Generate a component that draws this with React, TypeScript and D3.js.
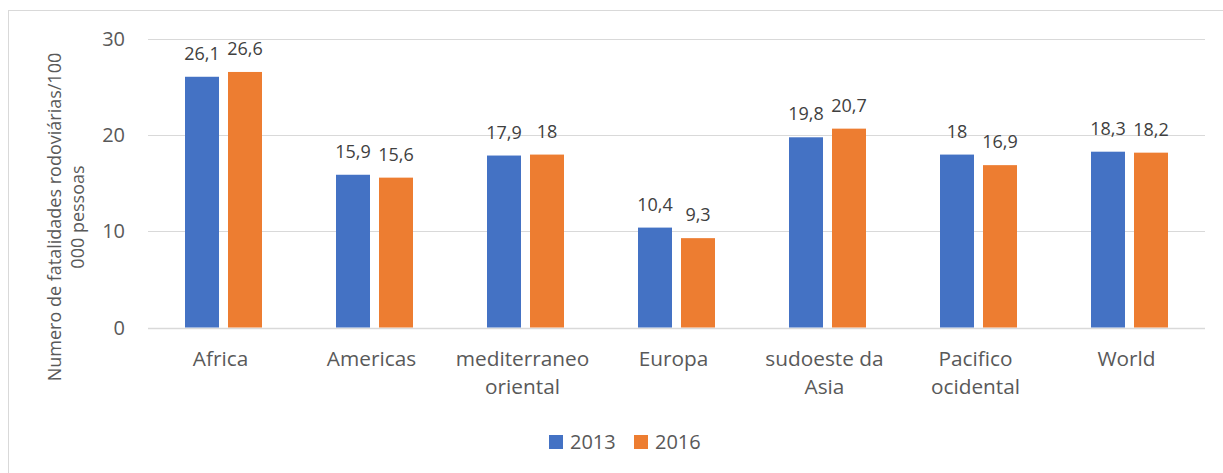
import React from "react";
import * as d3 from "d3";

const categories = [
  ["Africa"],
  ["Americas"],
  ["mediterraneo", "oriental"],
  ["Europa"],
  ["sudoeste da", "Asia"],
  ["Pacifico", "ocidental"],
  ["World"],
];
const seriesNames = ["2013", "2016"];
const values2013 = [26.1, 15.9, 17.9, 10.4, 19.8, 18, 18.3];
const values2016 = [26.6, 15.6, 18, 9.3, 20.7, 16.9, 18.2];
const yTicks = [0, 10, 20, 30];
const colors = ["#4472C4", "#ED7D31"];

const W = 1223;
const H = 473;
const FONT = "'Open Sans', sans-serif";
const TXT = "#595959";

export default function App() {
  const left = 148;
  const right = 1205;
  const top = 39.3;
  const bottom = 327.5;
  const x = d3
    .scaleBand<number>()
    .domain(d3.range(categories.length))
    .range([left, right]);
  const y = d3.scaleLinear().domain([0, 30]).range([bottom, top]);
  const bw = 34;
  const gap = 9;
  const series = [values2013, values2016];
  const fmt = (v: number) => String(v).replace(".", ",");

  return (
    <svg
      width={W}
      height={H}
      style={{ position: "fixed", left: 0, top: 0, background: "#fff" }}
      fontFamily={FONT}
    >
      <rect x={8.5} y={10.5} width={W + 20} height={H + 20} fill="#fff" stroke="#D9D9D9" strokeWidth={1} />
      {yTicks.map((t) => (
        <g key={t}>
          <line x1={left} x2={right} y1={Math.round(y(t)) + 0.5} y2={Math.round(y(t)) + 0.5} stroke="#D9D9D9" strokeWidth={t === 0 ? 1.5 : 1.2} />
          <text x={125} y={y(t) + 7} textAnchor="end" fontSize={20} fill={TXT}>
            {t}
          </text>
        </g>
      ))}
      {categories.map((c, i) => {
        const cx = (x(i) as number) + x.bandwidth() / 2;
        return (
          <g key={i}>
            {series.map((s, k) => {
              const bx = cx - gap / 2 - bw + k * (bw + gap);
              return (
                <g key={k}>
                  <rect x={bx} y={y(s[i])} width={bw} height={y(0) - y(s[i])} fill={colors[k]} />
                  <text x={bx + bw / 2} y={y(s[i]) - 17} textAnchor="middle" fontSize={18} fill="#404040">
                    {fmt(s[i])}
                  </text>
                </g>
              );
            })}
            {c.map((line, j) => (
              <text key={j} x={cx - 3} y={366 + j * 28} textAnchor="middle" fontSize={20.8} fill={TXT}>
                {line}
              </text>
            ))}
          </g>
        );
      })}
      <g transform="translate(0,217) rotate(-90)">
        <text x={0} y={61} textAnchor="middle" fontSize={18} fill={TXT}>
          Numero de fatalidades rodoviárias/100
        </text>
        <text x={0} y={84} textAnchor="middle" fontSize={18} fill={TXT}>
          000 pessoas
        </text>
      </g>
      {seriesNames.map((n, k) => {
        const lx = k === 0 ? 549 : 634;
        return (
          <g key={n}>
            <rect x={lx} y={435} width={14} height={14} fill={colors[k]} />
            <text x={lx + 21} y={449} fontSize={20} fill={TXT}>
              {n}
            </text>
          </g>
        );
      })}
    </svg>
  );
}
